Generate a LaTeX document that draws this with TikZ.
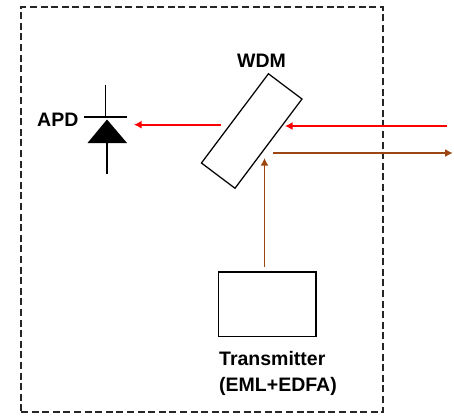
\documentclass[tikz,border=0pt]{standalone}
\usepackage{fontspec}
\setmainfont{Liberation Sans}
\usetikzlibrary{arrows.meta}
\definecolor{fiberbrown}{RGB}{156,70,20}

\begin{document}
\begin{tikzpicture} [x=1pt, y=-1pt]
    \tikzstyle{every node} = [align=left, inner sep=0pt, font=\fontsize{19.5}{26}\selectfont\bfseries]
    \tikzstyle{block} = [draw, line width=1.25pt]
    \tikzstyle{wire} = [line width=1.2pt]
    \tikzstyle{redline} = [draw=red, line width=1.8pt, -{Latex[length=7.5pt,width=8pt]}]
    \tikzstyle{brownline} = [draw=fiberbrown, line width=1.8pt, -{Latex[length=7.5pt,width=8pt]}]
    \useasboundingbox (0,0) rectangle (454,415);
    \node (enclosure) [draw=black!85, line width=1.1pt, dash pattern=on 7pt off 3.6pt, minimum width=362pt, minimum height=405pt] at (202,209.5) {};
    \node (wdm) [block, minimum width=111.6pt, minimum height=42pt, rotate=53.1] at (251.7,131) {};
    \node (transmitter) [block, minimum width=97.7pt, minimum height=64.7pt] at (267.2,304.4) {};
    \node (wdmlabel) [anchor=base west] at (237,67) {WDM};
    \node (apdlabel) [anchor=base west] at (37,126) {APD};
    \node (txlabel) [anchor=north west] at (219,351.5) {Transmitter\\(EML+EDFA)};
    % photodiode
    \coordinate (apdtop) at (105.7,85);
    \coordinate (apdbar) at (105.7,117);
    \coordinate (apdleft) at (84,117);
    \coordinate (apdright) at (126.7,117);
    \coordinate (apdapex) at (107,119.5);
    \coordinate (apdbaseleft) at (87.5,143);
    \coordinate (apdbaseright) at (127,143);
    \coordinate (apdbase) at (107,143);
    \coordinate (apdbottom) at (107,174);
    \draw [wire] (apdtop) -- (apdbar);
    \draw [wire] (apdleft) -- (apdright);
    \fill (apdapex) -- (apdbaseright) -- (apdbaseleft) -- cycle;
    \draw [wire] (apdbase) -- (apdbottom);
    % fibre paths
    \coordinate (rxout) at (221,124.7);
    \coordinate (rxapd) at (134,124.7);
    \coordinate (rxin) at (446.7,126);
    \coordinate (rxwdm) at (285,126);
    \coordinate (txout) at (273,153);
    \coordinate (txfiber) at (452.7,153);
    \coordinate (txstart) at (264.5,267);
    \coordinate (txwdm) at (264.5,158);
    \draw [redline] (rxout) -- (rxapd);
    \draw [redline] (rxin) -- (rxwdm);
    \draw [brownline] (txout) -- (txfiber);
    \draw [brownline] (txstart) -- (txwdm);
\end{tikzpicture}
\end{document}
